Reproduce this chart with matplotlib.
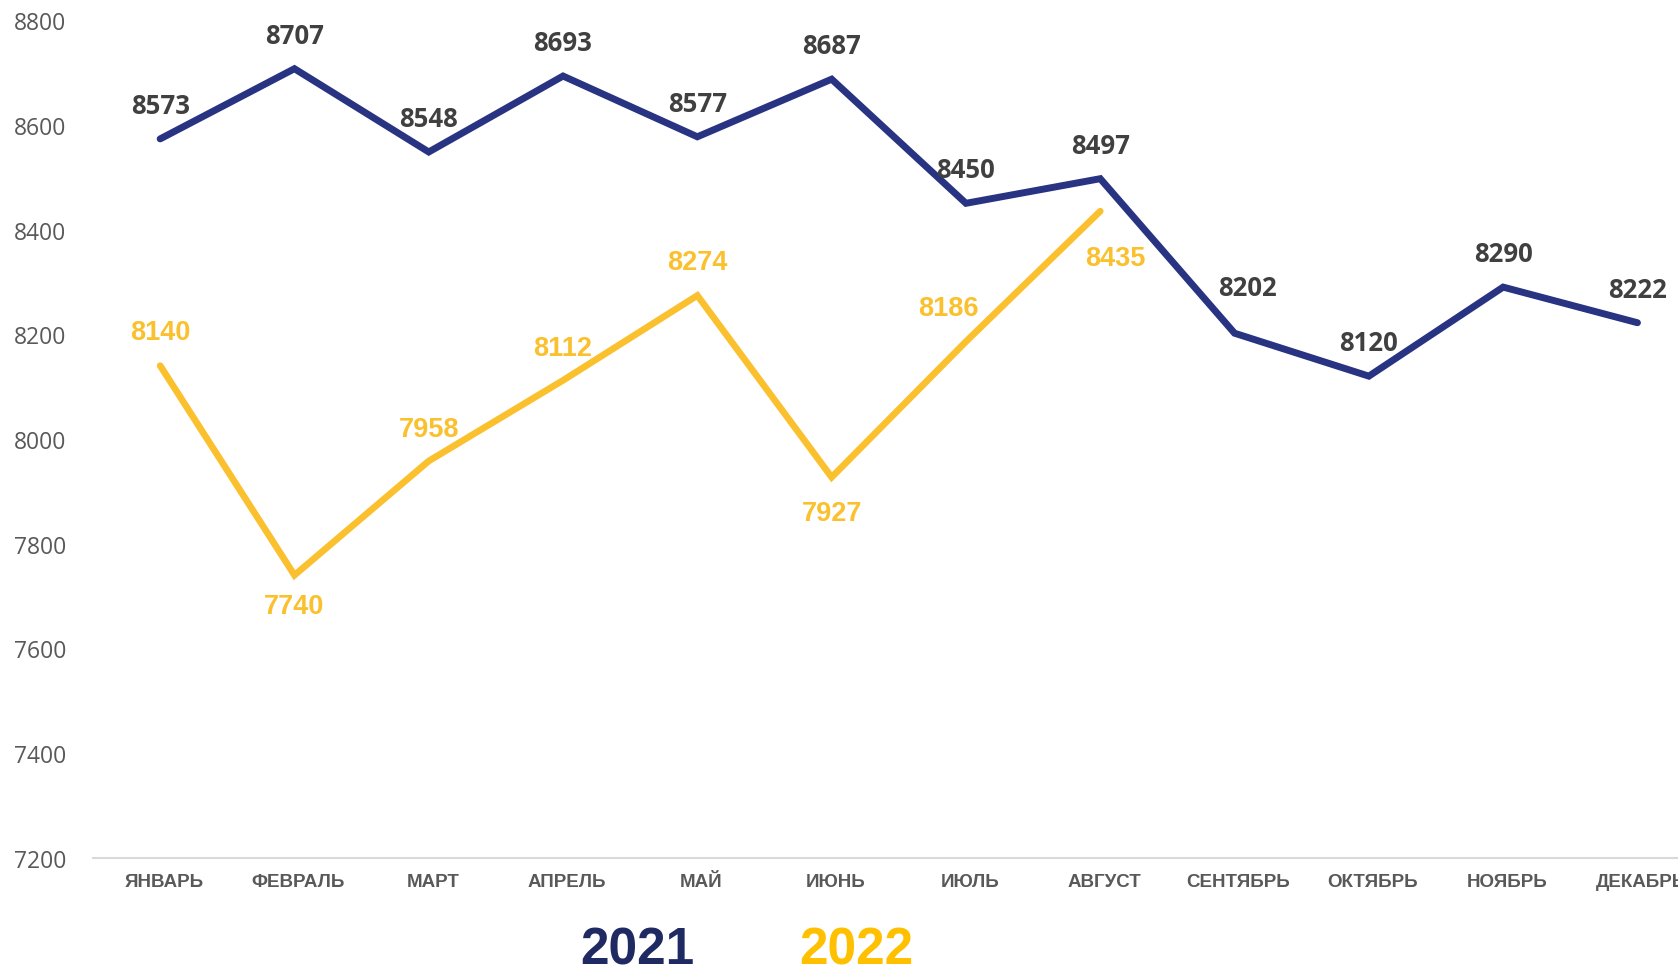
import matplotlib
matplotlib.use("Agg")
import matplotlib.pyplot as plt

months = ["ЯНВАРЬ", "ФЕВРАЛЬ", "МАРТ", "АПРЕЛЬ", "МАЙ", "ИЮНЬ",
          "ИЮЛЬ", "АВГУСТ", "СЕНТЯБРЬ", "ОКТЯБРЬ", "НОЯБРЬ", "ДЕКАБРЬ"]
values_2021 = [8573, 8707, 8548, 8693, 8577, 8687, 8450, 8497, 8202, 8120, 8290, 8222]
values_2022 = [8140, 7740, 7958, 8112, 8274, 7927, 8186, 8435]
yticks = [7200, 7400, 7600, 7800, 8000, 8200, 8400, 8600, 8800]

# label offsets in points (dx, dy)
off_2021 = [(0, 24)] * 8 + [(9, 33)] + [(0, 24)] * 3
off_2022 = [(0, 24), (0, -22), (0, 23), (0, 23), (0, 24), (0, -26), (-13, 24), (11, -34)]

NAVY = "#283382"
YEL = "#FBC02D"

W, H = 1678, 970
fig = plt.figure(figsize=(W / 100, H / 100), dpi=100)
left = 93 / W
right = (93 + 12 * 134.3) / W
bottom = (H - 859) / H
top = (H - 21) / H
ax = fig.add_axes([left, bottom, right - left, top - bottom])

x21 = list(range(len(values_2021)))
x22 = list(range(len(values_2022)))
ax.plot(x21, values_2021, color=NAVY, lw=5, solid_capstyle="round", solid_joinstyle="miter", zorder=3)
ax.plot(x22, values_2022, color=YEL, lw=4.8, solid_capstyle="round", solid_joinstyle="miter", zorder=3)

for xi, v, (dx, dy) in zip(x21, values_2021, off_2021):
    ax.annotate(str(v), (xi, v), xytext=(dx, dy), textcoords="offset points",
                ha="center", va="center", fontsize=18.5, fontweight="bold",
                family="Open Sans", color="#404040", zorder=4)
for xi, v, (dx, dy) in zip(x22, values_2022, off_2022):
    ax.annotate(str(v), (xi, v), xytext=(dx, dy), textcoords="offset points",
                ha="center", va="center", fontsize=19.5, fontweight="bold",
                family="Liberation Sans", color=YEL, zorder=4)

ax.set_xlim(-0.5, 11.5)
ax.set_ylim(7200, 8800)
ax.set_yticks(yticks)
ax.set_yticklabels([str(t) for t in yticks], family="Open Sans", fontsize=16.5, color="#595959")
ax.set_xticks([i + 0.03 for i in range(12)])
ax.set_xticklabels(months, family="Liberation Sans", fontsize=13.5, fontweight="bold", color="#595959")
ax.tick_params(axis="y", length=0, pad=19)
ax.tick_params(axis="x", length=0, pad=11)
for s in ["top", "right", "left"]:
    ax.spines[s].set_visible(False)
ax.spines["bottom"].set_color("#D9D9D9")
ax.spines["bottom"].set_linewidth(1.5)

fig.text(637 / W, 1 - 965 / H, "2021", ha="center", va="baseline", fontsize=37,
         fontweight="bold", family="Liberation Sans", color="#1F2A63")
fig.text(856 / W, 1 - 965 / H, "2022", ha="center", va="baseline", fontsize=37,
         fontweight="bold", family="Liberation Sans", color="#FFC000")

fig.savefig("out.png", dpi=100)
